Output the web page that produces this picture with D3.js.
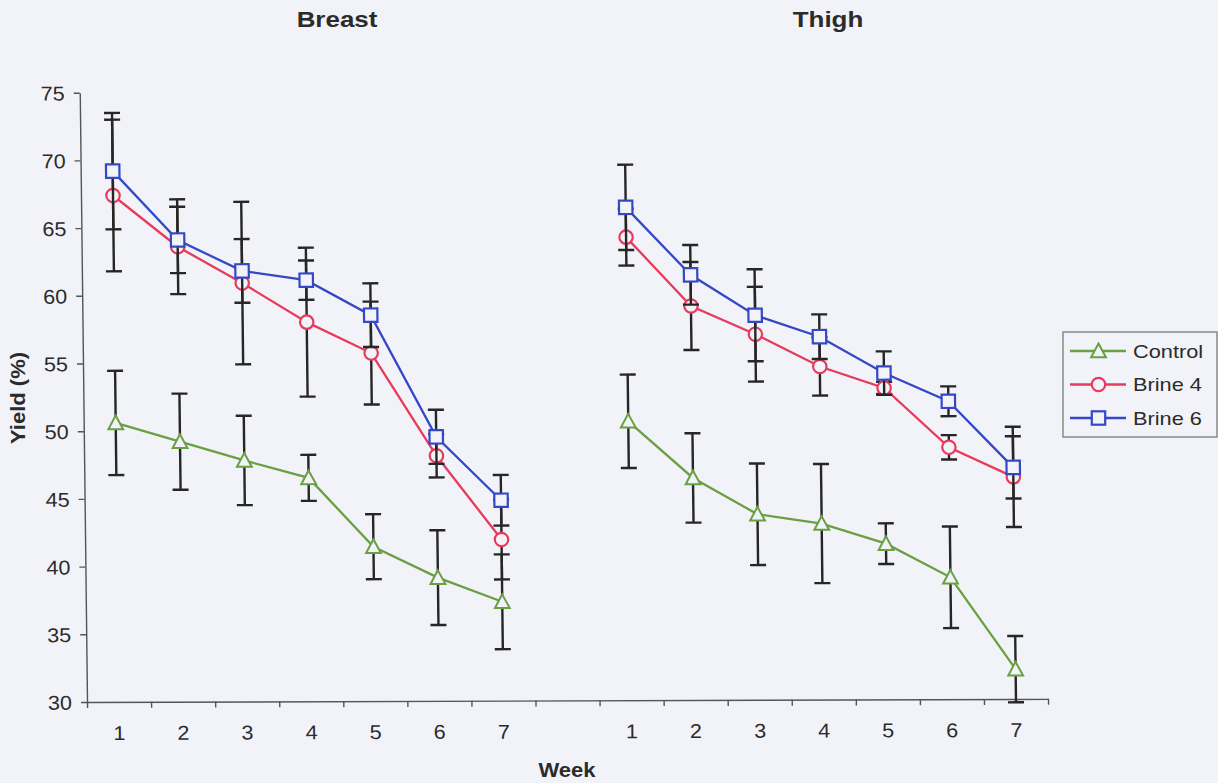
<!DOCTYPE html>
<html>
<head>
<meta charset="utf-8">
<script src="https://cdn.jsdelivr.net/npm/d3@7"></script>
<style>
  html, body { margin: 0; padding: 0; background: #f2f3f8; }
  svg { display: block; }
  text { font-family: Arial, "Liberation Sans", Helvetica, sans-serif; fill: #2b2b2b; }
</style>
</head>
<body>
<svg id="chart" width="1218" height="783"></svg>
<script>
// Yield (%) of breast and thigh portions over seven weeks of storage
const weeks = ["1", "2", "3", "4", "5", "6", "7"];
const panels = ["Breast", "Thigh"];
const seriesNames = ["Control", "Brine 4", "Brine 6"];
const yTicks = [30, 35, 40, 45, 50, 55, 60, 65, 70, 75];

// Breast means and standard deviations
const breastControl    = [50.6, 49.2, 47.8, 46.5, 41.4, 39.1, 37.3];
const breastControlErr = [3.85, 3.55, 3.3, 1.7, 2.4, 3.5, 3.5];
const breastBrine4     = [67.4, 63.6, 60.9, 58.0, 55.7, 48.1, 41.9];
const breastBrine4Err  = [5.6, 3.5, 6.0, 5.5, 3.8, 1.6, 2.95];
const breastBrine6     = [69.2, 64.1, 61.8, 61.1, 58.5, 49.5, 44.8];
const breastBrine6Err  = [4.3, 2.45, 2.35, 1.45, 2.35, 2.0, 1.87];

// Thigh means and standard deviations
const thighControl    = [50.6, 46.4, 43.7, 43.0, 41.5, 39.0, 32.2];
const thighControlErr = [3.45, 3.3, 3.75, 4.4, 1.5, 3.75, 2.45];
const thighBrine4     = [64.2, 59.1, 57.0, 54.6, 53.0, 48.6, 46.4];
const thighBrine4Err  = [2.1, 3.25, 3.5, 2.15, 0.45, 0.9, 3.7];
const thighBrine6     = [66.4, 61.4, 58.4, 56.8, 54.1, 52.0, 47.1];
const thighBrine6Err  = [3.15, 2.2, 3.4, 1.65, 1.6, 1.1, 2.3];

const colors = { "Control": "#6a9f42", "Brine 4": "#e83a5c", "Brine 6": "#3448c6" };
const shapes = { "Control": "triangle", "Brine 4": "circle", "Brine 6": "square" };
const bg = "#f2f3f8";
const ink = "#262626";

const seriesData = {
  Breast: {
    "Control": [breastControl, breastControlErr],
    "Brine 4": [breastBrine4, breastBrine4Err],
    "Brine 6": [breastBrine6, breastBrine6Err]
  },
  Thigh: {
    "Control": [thighControl, thighControlErr],
    "Brine 4": [thighBrine4, thighBrine4Err],
    "Brine 6": [thighBrine6, thighBrine6Err]
  }
};

// Category keys: seven weeks per panel with an empty slot between them
const keys = [...weeks.map(w => "B" + w), "gap", ...weeks.map(w => "T" + w)];
const panelPrefix = { Breast: "B", Thigh: "T" };

const svg = d3.select("#chart");
svg.append("rect").attr("width", 1218).attr("height", 783).attr("fill", bg);

const plotLeft = 87, plotRight = 1048, plotTop = 92.7, plotBottom = 702;

const x = d3.scaleBand().domain(keys).range([plotLeft, plotRight]).padding(0);
const xEdge = d3.scaleLinear().domain([0, keys.length]).range([plotLeft, plotRight]);
const y = d3.scaleLinear().domain([30, 75]).range([plotBottom, plotTop]);
const cx = k => x(k) + x.bandwidth() / 2;

// Slight shear of the plotting frame
const kx = 0.0119, ky = -0.0033;
const plot = svg.append("g")
  .attr("transform", `matrix(1,${ky},${kx},1,${-kx * plotBottom},${-ky * plotLeft})`);

// Text helper: horizontal widening along the reading direction
function label(parent, str, px, py, opts) {
  const g = parent.append("g")
    .attr("transform", `translate(${px},${py}) rotate(${opts.rotate || 0}) scale(${opts.sx || 1},1)`);
  g.append("text")
    .attr("text-anchor", opts.anchor || "middle")
    .attr("font-size", opts.size)
    .attr("font-weight", opts.weight || "normal")
    .text(str);
  return g;
}

// Y axis
const yAxis = plot.append("g")
  .attr("transform", `translate(${plotLeft},0)`)
  .call(d3.axisLeft(y).tickValues(yTicks).tickSize(6).tickSizeOuter(0).tickPadding(0));
yAxis.select(".domain").attr("stroke", "#555").attr("stroke-width", 1.4);
yAxis.selectAll(".tick line").attr("stroke", "#555").attr("stroke-width", 1.4);
const ySx = 1.08;
yAxis.selectAll(".tick text")
  .attr("font-size", 20)
  .attr("fill", "#2b2b2b")
  .attr("font-family", "Arial, 'Liberation Sans', sans-serif")
  .attr("x", -15 / ySx)
  .attr("dy", "0.36em")
  .attr("transform", `scale(${ySx},1)`);

// X axis: boundary tick marks
const xEdges = plot.append("g")
  .attr("transform", `translate(0,${plotBottom})`)
  .call(d3.axisBottom(xEdge).tickValues(d3.range(0, keys.length + 1)).tickSize(6).tickSizeOuter(0).tickFormat(""));
xEdges.select(".domain").attr("stroke", "#555").attr("stroke-width", 1.4);
xEdges.selectAll(".tick line").attr("stroke", "#555").attr("stroke-width", 1.4);

// X axis: week labels centred in each slot
const xLabels = plot.append("g")
  .attr("transform", `translate(0,${plotBottom})`)
  .call(d3.axisBottom(x).tickSize(0).tickPadding(0).tickFormat(k => k === "gap" ? "" : k.slice(1)));
xLabels.select(".domain").remove();
xLabels.selectAll(".tick text")
  .attr("font-size", 20)
  .attr("fill", "#2b2b2b")
  .attr("font-family", "Arial, 'Liberation Sans', sans-serif")
  .attr("y", 38)
  .attr("dy", 0)
  .attr("transform", `scale(${ySx},1)`);

// Marker drawing
function marker(parent, shape, px, py, color) {
  const s = 6.7;
  if (shape === "circle") {
    parent.append("circle").attr("cx", px).attr("cy", py).attr("r", s)
      .attr("fill", bg).attr("stroke", color).attr("stroke-width", 2.2);
  } else if (shape === "square") {
    parent.append("rect").attr("x", px - s).attr("y", py - s).attr("width", 2 * s).attr("height", 2 * s)
      .attr("fill", bg).attr("stroke", color).attr("stroke-width", 2.2);
  } else {
    const h = 7.4;
    parent.append("path")
      .attr("d", `M${px},${py - h}L${px + h},${py + h * 0.85}L${px - h},${py + h * 0.85}Z`)
      .attr("fill", bg).attr("stroke", color).attr("stroke-width", 2).attr("stroke-linejoin", "miter");
  }
}

const line = d3.line().x(d => cx(d.key)).y(d => y(d.v));

seriesNames.forEach(name => {
  panels.forEach(panel => {
    const [vals, errs] = seriesData[panel][name];
    const pts = weeks.map((w, i) => ({ key: panelPrefix[panel] + w, v: vals[i], e: errs[i] }));
    const g = plot.append("g");

    // error bars
    const eb = g.selectAll("g.err").data(pts).join("g").attr("class", "err");
    eb.append("line")
      .attr("x1", d => cx(d.key)).attr("x2", d => cx(d.key))
      .attr("y1", d => y(d.v + d.e)).attr("y2", d => y(d.v - d.e))
      .attr("stroke", ink).attr("stroke-width", 2.4);
    [1, -1].forEach(sg => {
      eb.append("line")
        .attr("x1", d => cx(d.key) - 8).attr("x2", d => cx(d.key) + 8)
        .attr("y1", d => y(d.v + sg * d.e)).attr("y2", d => y(d.v + sg * d.e))
        .attr("stroke", ink).attr("stroke-width", 2.4);
    });

    // connecting line
    g.append("path").datum(pts).attr("d", line)
      .attr("fill", "none").attr("stroke", colors[name]).attr("stroke-width", 2.3);

    // markers
    pts.forEach(d => marker(g, shapes[name], cx(d.key), y(d.v), colors[name]));
  });
});

// Panel titles
label(svg, "Breast", 337, 27, { size: 22, weight: "bold", sx: 1.18 });
label(svg, "Thigh", 828, 27, { size: 22, weight: "bold", sx: 1.18 });

// Axis titles
label(svg, "Week", 567, 777, { size: 19.5, weight: "bold", sx: 1.13 });
label(svg, "Yield (%)", 25, 398, { size: 19.5, weight: "bold", sx: 1.13, rotate: -90 });

// Legend
const lg = svg.append("g").attr("transform", "translate(1063,332)");
lg.append("rect").attr("width", 154).attr("height", 105)
  .attr("fill", bg).attr("stroke", "#7a7a7a").attr("stroke-width", 1.3);
const rowY = d3.scalePoint().domain(seriesNames).range([19, 86]);
seriesNames.forEach(name => {
  const ry = rowY(name);
  lg.append("line").attr("x1", 7).attr("x2", 63).attr("y1", ry).attr("y2", ry)
    .attr("stroke", colors[name]).attr("stroke-width", 2.3);
  marker(lg, shapes[name], 35.5, ry, colors[name]);
  label(lg, name, 70, ry + 6.5, { size: 18.6, anchor: "start", sx: 1.17 });
});
</script>
</body>
</html>
